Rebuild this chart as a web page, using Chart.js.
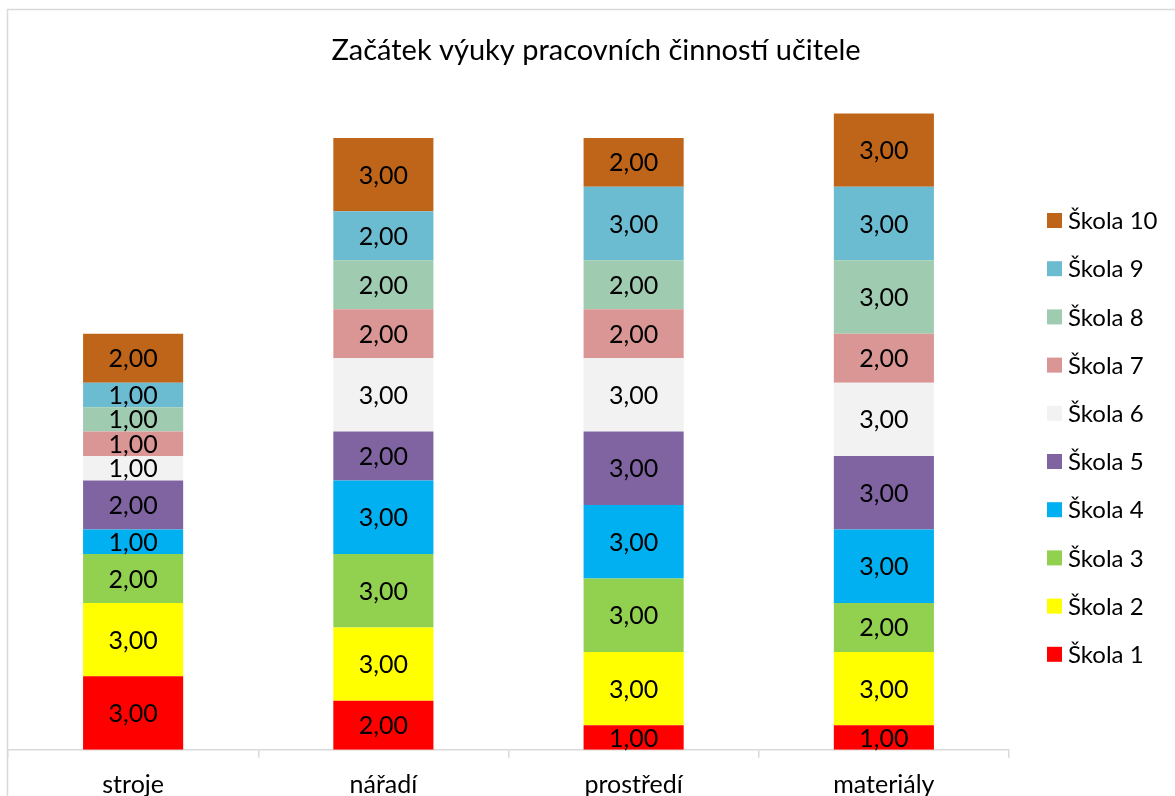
<!DOCTYPE html>
<html><head><meta charset="utf-8">
<script src="https://cdn.jsdelivr.net/npm/chart.js@4.4.1/dist/chart.umd.min.js"></script>
<style>html,body{margin:0;padding:0;overflow:hidden;background:#fff}#wrap{width:1175px;height:830px;position:relative}canvas{display:block}</style>
</head><body><div id="wrap"><canvas id="c" width="1175" height="830"></canvas></div>
<script>
const categories = ['stroje', 'nářadí', 'prostředí', 'materiály'];
const seriesNames = ['Škola 1','Škola 2','Škola 3','Škola 4','Škola 5','Škola 6','Škola 7','Škola 8','Škola 9','Škola 10'];
const skola1  = [3, 2, 1, 1];
const skola2  = [3, 3, 3, 3];
const skola3  = [2, 3, 3, 2];
const skola4  = [1, 3, 3, 3];
const skola5  = [2, 2, 3, 3];
const skola6  = [1, 3, 3, 3];
const skola7  = [1, 2, 2, 2];
const skola8  = [1, 2, 2, 3];
const skola9  = [1, 2, 3, 3];
const skola10 = [2, 3, 2, 3];
const seriesValues = [skola1, skola2, skola3, skola4, skola5, skola6, skola7, skola8, skola9, skola10];
const seriesColors = ['#FF0000','#FFFF00','#92D050','#00B0F0','#8064A2','#F2F2F2','#DA9694','#9FCBB1','#6CBCD1','#BF651A'];
const titleText = 'Začátek výuky pracovních činností učitele';
const FONT = 'Lato, "Open Sans", sans-serif';

const fmt = v => v.toFixed(2).replace('.', ',');

const frame = {
  id: 'frame',
  beforeDraw(chart) {
    const ctx = chart.ctx;
    ctx.save();
    ctx.fillStyle = '#fff';
    ctx.fillRect(0, 0, chart.width, chart.height);
    ctx.strokeStyle = '#D9D9D9';
    ctx.lineWidth = 1.5;
    ctx.strokeRect(7.5, 9.5, 2000, 2000);
    ctx.restore();
  },
  afterDraw(chart) {
    const ctx = chart.ctx;
    ctx.save();
    ctx.fillStyle = '#000';
    ctx.font = '29px ' + FONT;
    ctx.textAlign = 'center';
    ctx.textBaseline = 'middle';
    ctx.fillText(titleText, 596, 51);
    // legend
    ctx.font = '24px ' + FONT;
    ctx.textAlign = 'left';
    const ds = chart.data.datasets;
    for (let k = 0; k < ds.length; k++) {
      const i = ds.length - 1 - k;
      const y = 220.5 + k * 48.2;
      ctx.fillStyle = ds[i].backgroundColor;
      ctx.fillRect(1047, y - 7.5, 15, 15);
      ctx.fillStyle = '#000';
      ctx.fillText(ds[i].label, 1068, y + 1);
    }
    ctx.restore();
  }
};

const labels = {
  id: 'labels',
  afterDatasetsDraw(chart) {
    const ctx = chart.ctx;
    ctx.save();
    ctx.fillStyle = '#000';
    ctx.font = '25px ' + FONT;
    ctx.textAlign = 'center';
    ctx.textBaseline = 'middle';
    chart.data.datasets.forEach((d, di) => {
      const meta = chart.getDatasetMeta(di);
      meta.data.forEach((el, j) => {
        const v = d.data[j];
        if (!v) return;
        ctx.fillText(fmt(v), el.x, (el.y + el.base) / 2 + 1);
      });
    });
    ctx.restore();
  }
};

new Chart(document.getElementById('c'), {
  type: 'bar',
  data: {
    labels: categories,
    datasets: seriesNames.map((n, i) => ({
      label: n,
      data: seriesValues[i],
      backgroundColor: seriesColors[i],
      borderWidth: 0,
      barPercentage: 0.4,
      categoryPercentage: 1
    }))
  },
  options: {
    responsive: false,
    animation: false,
    layout: { padding: { top: 15.5, left: 8, right: 166, bottom: 18.2 } },
    plugins: { legend: { display: false }, title: { display: false }, tooltip: { enabled: false } },
    scales: {
      x: {
        stacked: true,
        grid: { display: true, drawOnChartArea: false, drawTicks: true, tickLength: 8, color: '#D9D9D9', lineWidth: 1.5, offset: true },
        border: { color: '#D9D9D9', width: 1.5 },
        ticks: { font: { family: FONT, size: 25 }, color: '#000', padding: 12 }
      },
      y: { stacked: true, display: false, min: 0, max: 30 }
    }
  },
  plugins: [frame, labels]
});
</script></body></html>
